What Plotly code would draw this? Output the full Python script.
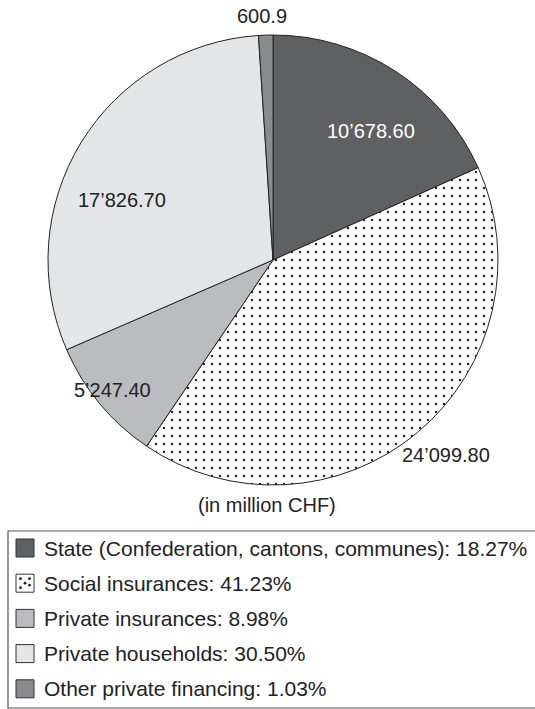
import plotly.graph_objects as go

# Health care financing by source (in million CHF)
sources = [
    "State (Confederation, cantons, communes)",
    "Social insurances",
    "Private insurances",
    "Private households",
    "Other private financing",
]
amounts = [10678.60, 24099.80, 5247.40, 17826.70, 600.9]
amount_labels = ["10\u2019678.60", "24\u2019099.80", "5\u2019247.40", "17\u2019826.70", "600.9"]

fills = ["#5f6062", "#ffffff", "#bbbcbf", "#e4e5e7", "#8a8b8d"]
patterns = ["", ".", "", "", ""]
label_colors = ["#ffffff", "#222222", "#222222", "#222222", "#222222"]
# pixel positions of the amount labels (x, y from top-left)
label_pos = [(371, 131), (446, 455), (112, 390), (122, 200), (262, 16)]

W, H = 535, 709
FONT = "Liberation Sans, Arial, Helvetica, sans-serif"
INK = "#222222"


def px(x):
    return x / W


def py(y):
    return 1 - y / H


total = sum(amounts)
shares = [a / total * 100 for a in amounts]

fig = go.Figure()
fig.add_trace(go.Pie(
    labels=sources,
    values=amounts,
    sort=False,
    direction="clockwise",
    rotation=0,
    textinfo="none",
    hoverinfo="skip",
    showlegend=False,
    domain=dict(x=[px(48), px(498)], y=[py(485), py(35)]),
    marker=dict(
        colors=fills,
        line=dict(color=INK, width=1),
        pattern=dict(shape=patterns, fgcolor=INK, size=8, solidity=0.07),
    ),
))

annotations = []
for txt, (x, y), col in zip(amount_labels, label_pos, label_colors):
    annotations.append(dict(
        x=px(x), y=py(y), xref="paper", yref="paper", text=txt,
        showarrow=False, xanchor="center", yanchor="middle",
        font=dict(family=FONT, size=20, color=col),
    ))

annotations.append(dict(
    x=px(267), y=py(505), xref="paper", yref="paper", text="(in million CHF)",
    showarrow=False, xanchor="center", yanchor="middle",
    font=dict(family=FONT, size=20, color=INK),
))

shapes = [dict(
    type="rect", xref="paper", yref="paper",
    x0=px(8), x1=px(560), y0=py(708), y1=py(531),
    line=dict(color="#555555", width=1.2), fillcolor="rgba(0,0,0,0)",
)]

# legend rows
row0, row_gap, box = 548, 35.2, 18
for i, (name, share, fill) in enumerate(zip(sources, shares, fills)):
    cy = row0 + i * row_gap
    shapes.append(dict(
        type="rect", xref="paper", yref="paper",
        x0=px(16), x1=px(16 + box), y0=py(cy + box / 2), y1=py(cy - box / 2),
        line=dict(color="#333333", width=1), fillcolor=fill,
    ))
    if patterns[i] == ".":
        for dx, dy in [(-4.5, -4.5), (4.5, -4.5), (0, 0), (-4.5, 4.5), (4.5, 2)]:
            cx = 16 + box / 2 + dx
            shapes.append(dict(
                type="circle", xref="paper", yref="paper",
                x0=px(cx - 1.4), x1=px(cx + 1.4),
                y0=py(cy + dy + 1.4), y1=py(cy + dy - 1.4),
                line=dict(width=0), fillcolor=INK,
            ))
    annotations.append(dict(
        x=px(42), y=py(cy), xref="paper", yref="paper",
        text=f"{name}: {share:.2f}%",
        showarrow=False, xanchor="left", yanchor="middle",
        font=dict(family=FONT, size=21, color=INK),
    ))

fig.update_layout(
    width=W, height=H,
    margin=dict(l=0, r=0, t=0, b=0),
    paper_bgcolor="white", plot_bgcolor="white",
    annotations=annotations,
    shapes=shapes,
)

fig.write_html("out.html")
